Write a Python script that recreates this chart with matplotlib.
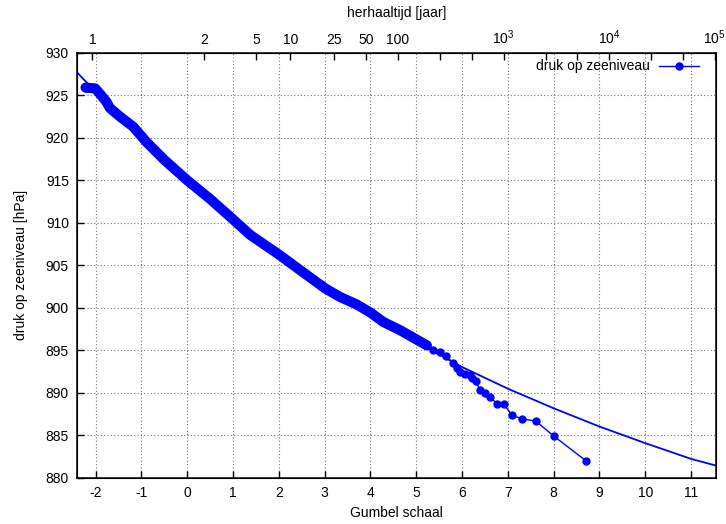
import numpy as np
import matplotlib.pyplot as plt

plt.switch_backend('Agg')
plt.rcParams['font.family'] = ['Liberation Sans', 'DejaVu Sans']
plt.rcParams['mathtext.fontset'] = 'custom'
plt.rcParams['mathtext.rm'] = 'Liberation Sans'
plt.rcParams['mathtext.it'] = 'Liberation Sans'
plt.rcParams['axes.unicode_minus'] = False

# waarnemingen: dichte band (gumbel, hPa)
band_x = [-2.22, -2.01, -1.91, -1.76, -1.69, -1.47, -1.18, -0.89, -0.5, 0.0, 0.5,
          0.94, 1.37, 2.02, 2.5, 3.01, 3.33, 3.70, 4.0, 4.28, 4.64, 5.0, 5.23]
band_y = [925.9, 925.8, 925.2, 924.2, 923.5, 922.5, 921.3, 919.5, 917.4, 915.0, 912.8,
          910.7, 908.6, 906.2, 904.3, 902.3, 901.3, 900.4, 899.45, 898.35, 897.4, 896.3, 895.6]

# losse waarnemingen in de staart
tail_x = [5.37, 5.52, 5.66, 5.81, 5.88, 5.95, 6.06, 6.17, 6.22, 6.30, 6.40, 6.51,
          6.62, 6.76, 6.91, 7.09, 7.31, 7.61, 8.01, 8.70]
tail_y = [895.1, 894.8, 894.3, 893.5, 892.9, 892.5, 892.2, 892.1, 891.8, 891.35, 890.3, 890.0,
          889.5, 888.75, 888.7, 887.4, 886.95, 886.7, 884.9, 882.05]

# gefitte curve
fit_x = [-2.4, -2.0, -1.0, 0.0, 1.0, 2.0, 3.0, 4.0, 5.0, 6.0, 7.0, 8.0, 9.0, 10.0, 11.0, 11.55]
fit_y = [927.65, 925.4, 920.3, 915.3, 910.6, 906.4, 902.6, 899.2, 896.0, 893.05, 890.5,
         888.2, 886.05, 884.1, 882.25, 881.45]

# herhaaltijden op de bovenste as
return_periods = [1, 2, 5, 10, 25, 50, 100, 250, 500, 1000, 2500, 5000, 1e4, 25000, 50000, 1e5]
return_labels = ['1', '2', '5', '10', '25', '50', '100', '', '', r'$10^3$', '', '',
                 r'$10^4$', '', '', r'$10^5$']


def gumbel(T):
    # T=1 ligt eigenlijk op -oneindig; gnuplot zet het net binnen de as
    p = np.maximum(1 - 1 / np.asarray(T, dtype=float), 3.6e-4)
    return -np.log(-np.log(p))


fig = plt.figure(figsize=(7.26, 5.24), dpi=100)
ax = fig.add_axes([0.1065, 0.0878, 0.8800, 0.8116])

blue = '#0000ff'
obs_x = band_x + tail_x
obs_y = band_y + tail_y

ax.plot(band_x, band_y, color=blue, lw=7.3, solid_capstyle='round', solid_joinstyle='round', zorder=3)
ax.plot(obs_x, obs_y, color=blue, lw=1, marker='o', ms=5, label='druk op zeeniveau', zorder=4)
ax.plot(fit_x, fit_y, color=blue, lw=1.3, zorder=2)

ax.set_xlim(-2.4, 11.55)
ax.set_ylim(880, 930)
ax.set_xticks(range(-2, 12))
ax.set_yticks(range(880, 931, 5))
ax.grid(True, color='#777777', linestyle=(0, (1, 2)), linewidth=0.8)
ax.tick_params(direction='in', length=5, width=1, pad=6, labelsize=10,
               top=False, right=False)
for sp in ax.spines.values():
    sp.set_linewidth(1.1)

ax.set_xlabel('Gumbel schaal', fontsize=10, labelpad=4)
ax.set_ylabel('druk op zeeniveau [hPa]', fontsize=10, labelpad=13)

ax2 = ax.twiny()
ax2.set_xlim(ax.get_xlim())
ax2.set_xticks(gumbel(return_periods))
ax2.set_xticklabels(return_labels)
ax2.tick_params(direction='in', length=5, width=1, pad=4, labelsize=10)
ax2.set_xlabel('herhaaltijd [jaar]', fontsize=10, labelpad=8)

ax.legend(loc='upper right', bbox_to_anchor=(0.989, 1.007), markerfirst=False,
          frameon=False, fontsize=10, handlelength=2.9, handletextpad=0.7,
          borderaxespad=0.3)

fig.savefig('out.png', dpi=100)
